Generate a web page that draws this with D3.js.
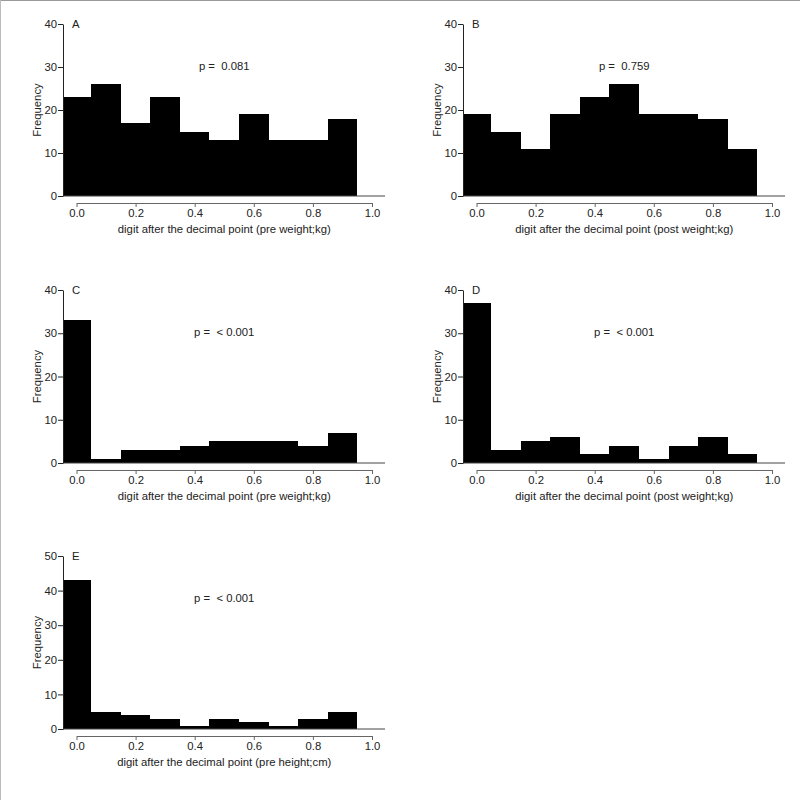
<!DOCTYPE html>
<html>
<head>
<meta charset="utf-8">
<script src="https://cdn.jsdelivr.net/npm/d3@7"></script>
<style>
  body { margin: 0; background: #fff; }
  svg { display: block; font-family: "Liberation Sans", Arial, sans-serif; }
</style>
</head>
<body>
<div id="root"></div>
<script>
// bin edges for the digit after the decimal point
const binStarts = [-0.05, 0.05, 0.15, 0.25, 0.35, 0.45, 0.55, 0.65, 0.75, 0.85];
const binWidth = 0.1;
const xTicks = [0, 0.2, 0.4, 0.6, 0.8, 1.0];

const freqA = [23, 26, 17, 23, 15, 13, 19, 13, 13, 18];
const freqB = [19, 15, 11, 19, 23, 26, 19, 19, 18, 11];
const freqC = [33, 1, 3, 3, 4, 5, 5, 5, 4, 7];
const freqD = [37, 3, 5, 6, 2, 4, 1, 4, 6, 2];
const freqE = [43, 5, 4, 3, 1, 3, 2, 1, 3, 5];

const panelLabels = ['A', 'B', 'C', 'D', 'E'];
const pValues = ['p =  0.081', 'p =  0.759', 'p =  < 0.001', 'p =  < 0.001', 'p =  < 0.001'];
const xLabels = [
    'digit after the decimal point (pre weight;kg)',
    'digit after the decimal point (post weight;kg)',
    'digit after the decimal point (pre weight;kg)',
    'digit after the decimal point (post weight;kg)',
    'digit after the decimal point (pre height;cm)'
];
const yMax = [40, 40, 40, 40, 50];
const yTicks = [
    [0, 10, 20, 30, 40],
    [0, 10, 20, 30, 40],
    [0, 10, 20, 30, 40],
    [0, 10, 20, 30, 40],
    [0, 10, 20, 30, 40, 50]
];
const series = [freqA, freqB, freqC, freqD, freqE];

const width = 800;
const height = 800;
const fontSize = 11.3;
const svg = d3.select('#root')
    .append('svg')
        .attr('width', width)
        .attr('height', height);

// frame: only top and left edges show
svg.append('line').attr('x1', 0).attr('x2', width).attr('y1', 0.5).attr('y2', 0.5)
    .attr('stroke', '#999');
svg.append('line').attr('x1', 0.5).attr('x2', 0.5).attr('y1', 0).attr('y2', height)
    .attr('stroke', '#bbb');

// where each panel sits: y-axis x, top of y range, baseline
const panelPos = [
    { ax: 63, top: 24, base: 196 },
    { ax: 463, top: 24, base: 196 },
    { ax: 63, top: 290, base: 463 },
    { ax: 463, top: 290, base: 463 },
    { ax: 63, top: 556, base: 729 }
];

series.forEach((vals, i) => {
    const pos = panelPos[i];
    const g = svg.append('g');

    const x = d3.scaleLinear()
        .domain([0, 1])
        .range([pos.ax + 13.5, pos.ax + 309]);
    const y = d3.scaleLinear()
        .domain([0, yMax[i]])
        .range([pos.base, pos.top]);

    // bars, snapped to whole pixels so neighbours meet without seams
    const left = k => Math.round(Math.max(x(binStarts[k]), pos.ax));
    const right = k => Math.round(x(binStarts[k] + binWidth));
    g.selectAll('rect')
        .data(vals)
        .enter()
        .append('rect')
            .attr('x', (d, k) => left(k))
            .attr('y', d => Math.round(y(d)))
            .attr('width', (d, k) => right(k) - left(k))
            .attr('height', d => Math.round(y(0)) - Math.round(y(d)))
            .attr('fill', '#000')
            .attr('shape-rendering', 'crispEdges');

    // baseline at zero
    g.append('line')
        .attr('x1', pos.ax).attr('x2', pos.ax + 322)
        .attr('y1', y(0)).attr('y2', y(0))
        .attr('stroke', '#444');

    // y axis
    const yAxis = g.append('g')
        .attr('transform', `translate(${pos.ax}, 0)`)
        .call(d3.axisLeft(y).tickValues(yTicks[i]).tickSize(5).tickSizeOuter(0).tickPadding(1));
    yAxis.select('.domain').attr('stroke', '#222');
    yAxis.selectAll('.tick line').attr('stroke', '#222');
    yAxis.selectAll('text').attr('font-size', fontSize).attr('fill', '#222')
        .attr('font-family', '"Liberation Sans", Arial, sans-serif');

    // x axis, offset below the bars
    const xAxis = g.append('g')
        .attr('transform', `translate(0, ${pos.base + 7})`)
        .call(d3.axisBottom(x).tickValues(xTicks).tickFormat(d3.format('.1f'))
            .tickSize(4).tickSizeOuter(0).tickPadding(2));
    xAxis.select('.domain').attr('stroke', '#666');
    xAxis.selectAll('.tick line').attr('stroke', '#666');
    xAxis.selectAll('text').attr('font-size', fontSize).attr('fill', '#222')
        .attr('font-family', '"Liberation Sans", Arial, sans-serif');

    // x label
    g.append('text')
        .attr('x', x(0.5))
        .attr('y', pos.base + 37)
        .attr('text-anchor', 'middle')
        .attr('font-size', fontSize)
        .attr('fill', '#222')
        .text(xLabels[i]);

    // y label
    g.append('text')
        .attr('transform', `translate(${pos.ax - 22}, ${(pos.top + pos.base) / 2}) rotate(-90)`)
        .attr('text-anchor', 'middle')
        .attr('font-size', fontSize)
        .attr('fill', '#222')
        .text('Frequency');

    // panel letter
    g.append('text')
        .attr('x', pos.ax + 9)
        .attr('y', pos.top + 4)
        .attr('font-size', fontSize)
        .attr('fill', '#222')
        .text(panelLabels[i]);

    // p value
    g.append('text')
        .attr('x', x(0.5))
        .attr('y', pos.top + 46)
        .attr('text-anchor', 'middle')
        .attr('font-size', fontSize)
        .attr('fill', '#222')
        .style('white-space', 'pre')
        .text(pValues[i]);
});
</script>
</body>
</html>
